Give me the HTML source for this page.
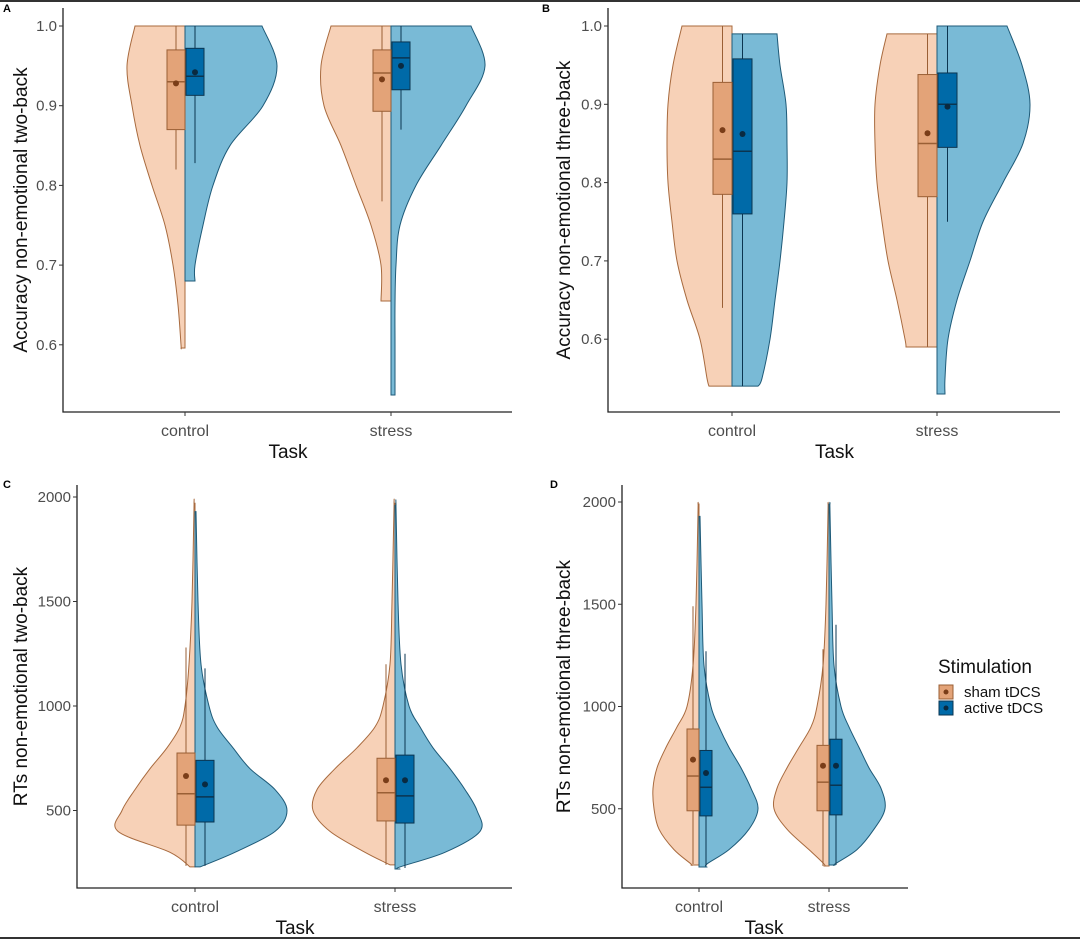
<!DOCTYPE html>
<html><head><meta charset="utf-8"><style>
body{margin:0;background:#fff;}
svg{display:block;font-family:"Liberation Sans",sans-serif;}
</style></head><body>
<svg id="chart" width="1080" height="939" viewBox="0 0 1080 939"></svg>
<script>
// ---------- DATA ----------
const categories = ["control", "stress"];
const groups = ["sham tDCS", "active tDCS"];
// Panel A: accuracy two-back
const accGridA = [1.0, 0.95, 0.9, 0.85, 0.8, 0.75, 0.7, 0.65, 0.6];
const densA_control_sham = [50, 58, 53, 45, 33, 20, 12, 7, 4];
const densA_control_active = [77, 92, 78, 45, 28, 18, 10];
const densA_stress_sham = [60, 70, 67, 50, 35, 20, 10];
const densA_stress_active = [80, 94, 75, 50, 25, 9, 5, 4, 4];
const rangeA = [[0.596, 1.0], [0.68, 1.0], [0.655, 1.0], [0.537, 1.0]];
// box stats: [whiskLow, q1, median, q3, whiskHigh, mean]
const boxA = [[0.82, 0.87, 0.93, 0.97, 1.0, 0.928], [0.828, 0.913, 0.937, 0.972, 1.0, 0.942],
              [0.78, 0.893, 0.941, 0.97, 1.0, 0.933], [0.87, 0.92, 0.96, 0.98, 1.0, 0.95]];
// Panel B: accuracy three-back
const accGridB = [1.0, 0.95, 0.9, 0.85, 0.8, 0.75, 0.7, 0.65, 0.6, 0.55, 0.53];
const densB_control_sham = [50, 59, 64, 65, 64, 60, 55, 45, 32, 25, 23];
const densB_control_active = [45, 48, 54, 55, 55, 52, 48, 43, 38, 30, 26];
const densB_stress_sham = [50, 57, 62, 62, 60, 55, 49, 40, 32, 31, 31];
const densB_stress_active = [70, 85, 93, 86, 66, 46, 33, 20, 11, 8, 8];
const rangeB = [[0.54, 1.0], [0.54, 0.99], [0.59, 0.99], [0.53, 1.0]];
const boxB = [[0.64, 0.785, 0.83, 0.928, 1.0, 0.867], [0.54, 0.76, 0.84, 0.958, 0.99, 0.862],
              [0.59, 0.782, 0.85, 0.938, 0.99, 0.863], [0.75, 0.845, 0.90, 0.94, 1.0, 0.897]];
// Panel C: RT two-back
const rtGrid = [230, 300, 400, 500, 600, 700, 800, 900, 1000, 1200, 1500, 1950];
const densC_control_sham = [5, 25, 77, 73, 60, 45, 28, 15, 10, 6, 3, 1];
const densC_control_active = [5, 40, 80, 92, 80, 55, 38, 22, 14, 6, 3, 1];
const densC_stress_sham = [5, 30, 65, 82, 78, 60, 38, 20, 12, 5, 3, 1];
const densC_stress_active = [5, 50, 85, 82, 70, 55, 38, 25, 14, 6, 3, 1];
const rangeC = [[230, 1970], [230, 1930], [240, 1970], [220, 1960]];
const boxC = [[235, 430, 580, 775, 1280, 665], [235, 445, 565, 740, 1180, 625],
              [240, 450, 585, 750, 1200, 645], [225, 440, 570, 765, 1250, 645]];
// Panel D: RT three-back
const densD_control_sham = [8, 25, 40, 45, 46, 42, 33, 22, 12, 6, 3, 1];
const densD_control_active = [8, 30, 50, 59, 52, 42, 30, 20, 12, 5, 3, 1];
const densD_stress_sham = [5, 20, 42, 55, 52, 42, 30, 18, 12, 6, 3, 1];
const densD_stress_active = [6, 28, 45, 56, 52, 40, 30, 20, 12, 5, 3, 1];
const rangeD = [[225, 1990], [215, 1930], [220, 1990], [225, 1990]];
const boxD = [[230, 490, 660, 890, 1490, 740], [220, 465, 605, 785, 1270, 675],
              [220, 490, 630, 810, 1280, 710], [225, 470, 615, 840, 1400, 710]];
const accTicks = [0.6, 0.7, 0.8, 0.9, 1.0];
const accTickLabels = ["0.6", "0.7", "0.8", "0.9", "1.0"];
const rtTicks = [500, 1000, 1500, 2000];
const rtTickLabels = ["500", "1000", "1500", "2000"];

// ---------- DRAW ----------
const NS = "http://www.w3.org/2000/svg";
const svg = document.getElementById("chart");
function mk(tag, attrs, parent) {
  const e = document.createElementNS(NS, tag);
  for (const k in attrs) e.setAttribute(k, attrs[k]);
  (parent || svg).appendChild(e);
  return e;
}
const C = {
  shamV: "#f7d1b7", shamVS: "#a86a3e", shamB: "#e3a378", shamBS: "#9a5f35", shamM: "#7a3d18",
  actV: "#79bad6", actVS: "#1e5a78", actB: "#006aa8", actBS: "#0b3550", actM: "#0a2a40"
};
function catmull(pts) {
  let d = "M" + pts[0][0] + "," + pts[0][1];
  for (let i = 0; i < pts.length - 1; i++) {
    const p0 = pts[i - 1] || pts[i], p1 = pts[i], p2 = pts[i + 1], p3 = pts[i + 2] || p2;
    const c1 = [p1[0] + (p2[0] - p0[0]) / 6, p1[1] + (p2[1] - p0[1]) / 6];
    const c2 = [p2[0] - (p3[0] - p1[0]) / 6, p2[1] - (p3[1] - p1[1]) / 6];
    d += "C" + c1 + " " + c2 + " " + p2;
  }
  return d;
}
function panel(cfg) {
  const g = mk("g", {});
  
  
  const y = v => cfg.y0 + (v - cfg.v0) * cfg.k;
  const xs = i => cfg.xc[i];
  const sets = [[0, 0], [0, 1], [1, 0], [1, 1]];
  sets.forEach(([ci, gi], idx) => {
    const dens = cfg.dens[idx], rng = cfg.range[idx];
    const dir = gi === 0 ? -1 : 1, cx = xs(ci);
    const pts = [];
    for (let j = 0; j < dens.length; j++) {
      let v = cfg.grid[j];
      if (v > rng[1]) v = rng[1];
      if (v < rng[0]) v = rng[0];
      const py = y(v);
      if (pts.some(p => Math.abs(p[1] - py) < 0.5)) continue;
      pts.push([cx + dir * dens[j] * cfg.ws, py]);
    }
    pts.sort((a, b) => a[1] - b[1]);
    const last = pts[pts.length - 1];
    if (Math.abs(last[1] - y(rng[0])) > 0.5 && y(rng[0]) > last[1]) pts.push([last[0], y(rng[0])]);
    if (pts[0][1] - y(rng[1]) > 0.5) pts.unshift([pts[0][0], y(rng[1])]);
    const top = Math.min(y(rng[1]), y(rng[0])), bot = Math.max(y(rng[1]), y(rng[0]));
    let d = "M" + cx + "," + top + "L" + pts[0][0] + "," + pts[0][1];
    d += catmull(pts).replace(/^M[^C]*/, "");
    d += "L" + cx + "," + bot + "Z";
    const p = mk("path", { d: d, fill: gi ? C.actV : C.shamV, stroke: gi ? C.actVS : C.shamVS, "stroke-width": 1 }, g);
    
    
  });
  sets.forEach(([ci, gi], idx) => {
    const b = cfg.box[idx], cx = xs(ci);
    const x0 = gi ? cx + 1 : cx - cfg.bw, x1 = gi ? cx + 1 + cfg.bw : cx;
    const mid = (x0 + x1) / 2;
    const sc = gi ? C.actBS : C.shamBS;
    const w = mk("line", { x1: mid, x2: mid, y1: y(b[0]), y2: y(b[4]), stroke: sc, "stroke-width": 1 }, g);
    
    
    const r = mk("rect", { x: x0, y: y(b[3]), width: x1 - x0, height: y(b[1]) - y(b[3]), fill: gi ? C.actB : C.shamB, stroke: sc, "stroke-width": 1 }, g);
    
    
    const m = mk("line", { x1: x0, x2: x1, y1: y(b[2]), y2: y(b[2]), stroke: sc, "stroke-width": 1.5 }, g);
    
    
    const c = mk("circle", { cx: mid, cy: y(b[5]), r: 3, fill: gi ? C.actM : C.shamM }, g);
    
    
  });
  const ax = mk("path", { d: "M" + cfg.ax + "," + cfg.axTop + "V" + cfg.axB + "H" + cfg.axR, fill: "none", stroke: "#222", "stroke-width": 1.3 }, g);
  
  
  cfg.ticks.forEach((t, i) => {
    mk("line", { x1: cfg.ax - 4, x2: cfg.ax, y1: y(t), y2: y(t), stroke: "#333" }, g);
    const tx = mk("text", { x: cfg.ax - 6, y: y(t) + 5, "text-anchor": "end", "font-size": 15, fill: "#4d4d4d" }, g);
    tx.textContent = cfg.tickLabels[i];
    
    
  });
  categories.forEach((c, i) => {
    mk("line", { x1: xs(i), x2: xs(i), y1: cfg.axB, y2: cfg.axB + 4, stroke: "#333" }, g);
    const tx = mk("text", { x: xs(i), y: cfg.axB + 24, "text-anchor": "middle", "font-size": 16, fill: "#4d4d4d" }, g);
    tx.textContent = c;
    
    
  });
  const xt = mk("text", { x: (xs(0) + xs(1)) / 2, y: cfg.axB + 46, "text-anchor": "middle", "font-size": 19, fill: "#111" }, g);
  xt.textContent = "Task";
  
  
  const yc = (cfg.axTop + cfg.axB) / 2;
  const yt = mk("text", { x: cfg.ytx, y: yc, "text-anchor": "middle", "font-size": 19, fill: "#111", transform: "rotate(-90 " + cfg.ytx + " " + yc + ")" }, g);
  yt.textContent = cfg.ytitle;
  
  
  const lt = mk("text", { x: cfg.lx, y: cfg.ly, "font-size": 11, "font-weight": "bold", fill: "#000" }, g);
  lt.textContent = cfg.letter;
  
  
}
panel({ name: "panel-a", letter: "A", lx: 3, ly: 12, y0: 26, v0: 1.0, k: -797, xc: [185, 391], ws: 1, bw: 18,
  grid: accGridA, dens: [densA_control_sham, densA_control_active, densA_stress_sham, densA_stress_active], range: rangeA, box: boxA,
  ax: 63, axTop: 8, axB: 412, axR: 512, ticks: accTicks, tickLabels: accTickLabels, ytx: 27, ytitle: "Accuracy non-emotional two-back" });
panel({ name: "panel-b", letter: "B", lx: 542, ly: 12, y0: 26, v0: 1.0, k: -783, xc: [732, 937], ws: 1, bw: 19,
  grid: accGridB, dens: [densB_control_sham, densB_control_active, densB_stress_sham, densB_stress_active], range: rangeB, box: boxB,
  ax: 608, axTop: 8, axB: 412, axR: 1060, ticks: accTicks, tickLabels: accTickLabels, ytx: 570, ytitle: "Accuracy non-emotional three-back" });
panel({ name: "panel-c", letter: "C", lx: 3, ly: 488, y0: 497, v0: 2000, k: -0.209, xc: [195, 395], ws: 1, bw: 18,
  grid: rtGrid, dens: [densC_control_sham, densC_control_active, densC_stress_sham, densC_stress_active], range: rangeC, box: boxC,
  ax: 77, axTop: 485, axB: 888, axR: 512, ticks: rtTicks, tickLabels: rtTickLabels, ytx: 27, ytitle: "RTs non-emotional two-back" });
panel({ name: "panel-d", letter: "D", lx: 550, ly: 488, y0: 502, v0: 2000, k: -0.2045, xc: [699, 829], ws: 1, bw: 12,
  grid: rtGrid, dens: [densD_control_sham, densD_control_active, densD_stress_sham, densD_stress_active], range: rangeD, box: boxD,
  ax: 622, axTop: 485, axB: 888, axR: 908, ticks: rtTicks, tickLabels: rtTickLabels, ytx: 570, ytitle: "RTs non-emotional three-back" });

const lg = mk("g", {});


const lt = mk("text", { x: 938, y: 673, "font-size": 19, fill: "#111" }, lg);
lt.textContent = "Stimulation";


groups.forEach((gname, i) => {
  const yy = 685 + i * 16;
  const r = mk("rect", { x: 939, y: yy, width: 14, height: 14, fill: i ? C.actB : C.shamB, stroke: i ? C.actBS : C.shamBS }, lg);
  
  
  mk("circle", { cx: 946, cy: yy + 7, r: 2.5, fill: i ? C.actM : C.shamM }, lg);
  const t = mk("text", { x: 964, y: yy + 12, "font-size": 15, fill: "#111" }, lg);
  t.textContent = gname;
  
  
});
mk("line", { x1: 0, x2: 1080, y1: 1, y2: 1, stroke: "#333", "stroke-width": 2 });
mk("line", { x1: 0, x2: 1080, y1: 938, y2: 938, stroke: "#333", "stroke-width": 2 });
</script>
</body></html>
